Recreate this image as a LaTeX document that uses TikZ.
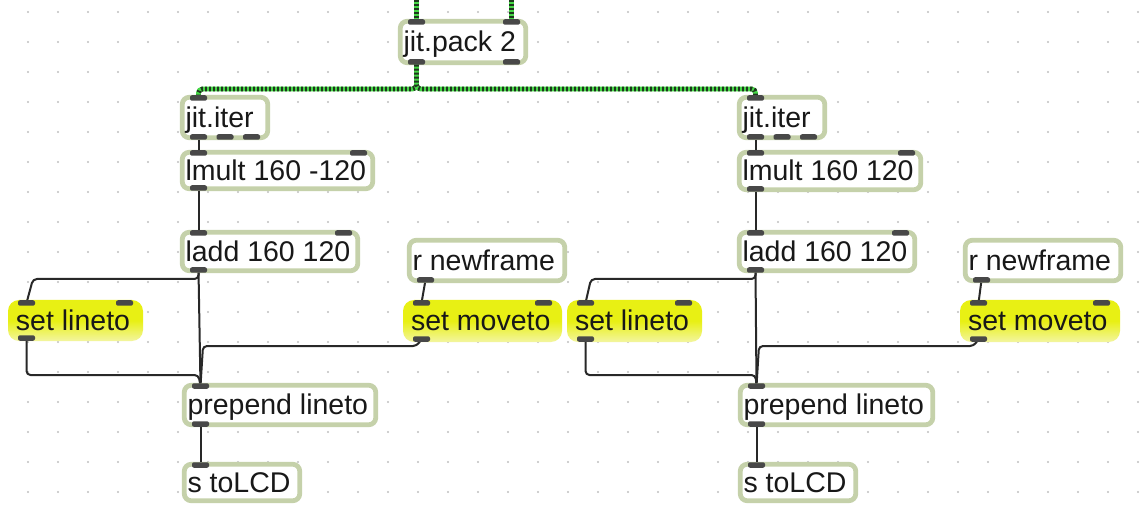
\documentclass[tikz,border=0pt]{standalone}
\usepackage{fontspec}
\setmainfont{Liberation Sans}
\pgfdeclarelayer{back}
\pgfdeclarelayer{wires}
\pgfsetlayers{back,wires,main}

\definecolor{boxedge}{RGB}{197,209,170}
\definecolor{portc}{RGB}{72,72,72}
\definecolor{cordc}{RGB}{40,40,40}
\definecolor{dotc}{RGB}{192,192,192}
\definecolor{msgtop}{RGB}{232,240,20}
\definecolor{msgbot}{RGB}{243,245,160}
\definecolor{mgreen}{RGB}{70,215,70}
\definecolor{mdark}{RGB}{30,55,30}
\definecolor{inkc}{RGB}{24,24,24}

% object box: name, left, top, right, bottom, text (pixel coordinates)
\newcommand\mxobj[6]{%
  \pgfmathsetmacro\mxW{#4-#2-4.5}\pgfmathsetmacro\mxH{#5-#3-4.5}\pgfmathsetmacro\mxT{\mxW-6.5}%
  \node[objbox, minimum width=\mxW pt, minimum height=\mxH pt] (#1) at ({(#2+#4)/2},{(#3+#5)/2}) {\makebox[\mxT pt][l]{#6}};}
% message box: name, left, top, right, bottom, text
\newcommand\mxmsg[6]{%
  \pgfmathsetmacro\mxW{#4-#2}\pgfmathsetmacro\mxH{#5-#3}\pgfmathsetmacro\mxT{\mxW-16}%
  \node[msgbox, minimum width=\mxW pt, minimum height=\mxH pt] (#1) at ({(#2+#4)/2},{(#3+#5)/2}) {\makebox[\mxT pt][l]{#6}};}

\tikzset{
  boxtext/.style={font=\fontsize{28.5}{31}\selectfont, text=inkc, inner ysep=0pt,
    text height=19.5pt, text depth=0pt, outer sep=0pt},
  objbox/.style={boxtext, rectangle, rounded corners=7pt, draw=boxedge, line width=4.8pt,
    fill=white, inner xsep=3pt},
  msgbox/.style={boxtext, rectangle, rounded corners=11pt, draw=none,
    top color=msgtop, bottom color=msgbot, middle color=msgtop, inner xsep=8pt},
  port/.style={rectangle, fill=portc, draw=none, minimum width=17pt, minimum height=5.5pt,
    inner sep=0pt, outer sep=0pt, rounded corners=2pt},
  cord/.style={draw=cordc, line width=2pt, rounded corners=4pt},
  mcord/.style={draw=mgreen, line width=4.8pt, rounded corners=4pt,
    postaction={draw=mdark, line width=4.8pt, dash pattern=on 1.8pt off 2.2pt}},
}

\begin{document}
\begin{tikzpicture}[x=1pt, y=-1pt]
\useasboundingbox (0,0) rectangle (1144,505);

\begin{pgfonlayer}{back}
  \fill[white] (0,0) rectangle (1144,505);
  % grid of the patcher
  \foreach \i in {0,...,37} \foreach \j in {0,...,16}
    \fill[dotc] ({28+30*\i},{12+30*\j}) circle (1.1pt);

  \mxobj{pack}{398}{19}{528}{65}{jit.pack 2}
  % left chain
  \mxobj{iterL}{180}{95}{270}{140}{jit.iter}
  \mxobj{lmultL}{180}{150}{375}{191}{lmult 160 -120}
  \mxobj{laddL}{180}{230}{360}{273}{ladd 160 120}
  \mxmsg{lineL}{8}{300}{143}{341}{set lineto}
  \mxobj{rnfL}{407}{238}{567}{283}{r newframe}
  \mxmsg{moveL}{403}{300}{562}{342}{set moveto}
  \mxobj{prepL}{182}{383}{378}{427}{prepend lineto}
  \mxobj{lcdL}{182}{462}{302}{503}{s toLCD}
  % right chain
  \mxobj{iterR}{737}{95}{827}{140}{jit.iter}
  \mxobj{lmultR}{737}{150}{923}{192}{lmult 160 120}
  \mxobj{laddR}{737}{230}{917}{273}{ladd 160 120}
  \mxmsg{lineR}{567}{300}{702}{342}{set lineto}
  \mxobj{rnfR}{963}{238}{1123}{283}{r newframe}
  \mxmsg{moveR}{960}{300}{1120}{342}{set moveto}
  \mxobj{prepR}{738}{383}{935}{427}{prepend lineto}
  \mxobj{lcdR}{738}{462}{858}{503}{s toLCD}
\end{pgfonlayer}

% inlets and outlets
\node[port] (pack-i1) at (416.5,22) {};
\node[port] (pack-i2) at (511.5,22) {};
\node[port] (pack-o1) at (416.5,62) {};
\node[port] (pack-o2) at (511.5,62) {};

\node[port] (iterL-i1) at (198.5,98) {};
\node[port] (iterL-o1) at (198.5,137) {};
\node[port] (iterL-o2) at (225,137) {};
\node[port] (iterL-o3) at (251.5,137) {};
\node[port] (lmultL-i1) at (198.5,153) {};
\node[port] (lmultL-i2) at (358.5,153) {};
\node[port] (lmultL-o1) at (198.5,188) {};
\node[port] (laddL-i1) at (198.5,233) {};
\node[port] (laddL-i2) at (343.5,233) {};
\node[port] (laddL-o1) at (198.5,270) {};
\node[port] (lineL-i1) at (26.5,303) {};
\node[port] (lineL-i2) at (124.5,303) {};
\node[port] (lineL-o1) at (26.5,338) {};
\node[port] (rnfL-o1) at (425.5,280) {};
\node[port] (moveL-i1) at (421.5,303) {};
\node[port] (moveL-i2) at (543.5,303) {};
\node[port] (moveL-o1) at (421.5,339) {};
\node[port] (prepL-i1) at (200.5,386) {};
\node[port] (prepL-o1) at (200.5,424) {};
\node[port] (lcdL-i1) at (200.5,465) {};

\node[port] (iterR-i1) at (755.5,98) {};
\node[port] (iterR-o1) at (755.5,137) {};
\node[port] (iterR-o2) at (782,137) {};
\node[port] (iterR-o3) at (808.5,137) {};
\node[port] (lmultR-i1) at (755.5,153) {};
\node[port] (lmultR-i2) at (906.5,153) {};
\node[port] (lmultR-o1) at (755.5,189) {};
\node[port] (laddR-i1) at (755.5,233) {};
\node[port] (laddR-i2) at (900.5,233) {};
\node[port] (laddR-o1) at (755.5,270) {};
\node[port] (lineR-i1) at (585.5,303) {};
\node[port] (lineR-i2) at (683.5,303) {};
\node[port] (lineR-o1) at (585.5,339) {};
\node[port] (rnfR-o1) at (981.5,280) {};
\node[port] (moveR-i1) at (978.5,303) {};
\node[port] (moveR-i2) at (1101.5,303) {};
\node[port] (moveR-o1) at (978.5,339) {};
\node[port] (prepR-i1) at (756.5,386) {};
\node[port] (prepR-o1) at (756.5,424) {};
\node[port] (lcdR-i1) at (756.5,465) {};

\coordinate (srcA) at (416.5,0);
\coordinate (srcB) at (511.5,0);

\begin{pgfonlayer}{wires}
  % matrix cords
  \draw[mcord] (srcA) -- (pack-i1);
  \draw[mcord] (srcB) -- (pack-i2);
  \draw[mcord] (pack-o1) |- (198.5,89) -- (iterL-i1);
  \draw[mcord] (pack-o1) |- (755.5,89) -- (iterR-i1);

  % left chain
  \draw[cord] (iterL-o1) -- (lmultL-i1);
  \draw[cord] (lmultL-o1) -- (laddL-i1);
  \draw[cord] (laddL-o1) -- (prepL-i1);
  \draw[cord] (laddL-o1) |- (33,279) -- (lineL-i1);
  \draw[cord] (lineL-o1) |- (198.5,375) -- (prepL-i1);
  \draw[cord] (moveL-o1) -- (417,346) -- (203,346) -- (prepL-i1);
  \draw[cord] (rnfL-o1) -- (moveL-i1);
  \draw[cord] (prepL-o1) -- (lcdL-i1);

  % right chain
  \draw[cord] (iterR-o1) -- (lmultR-i1);
  \draw[cord] (lmultR-o1) -- (laddR-i1);
  \draw[cord] (laddR-o1) -- (prepR-i1);
  \draw[cord] (laddR-o1) |- (591,279) -- (lineR-i1);
  \draw[cord] (lineR-o1) |- (755.5,375) -- (prepR-i1);
  \draw[cord] (moveR-o1) -- (974,346) -- (759,346) -- (prepR-i1);
  \draw[cord] (rnfR-o1) -- (moveR-i1);
  \draw[cord] (prepR-o1) -- (lcdR-i1);
\end{pgfonlayer}
\end{tikzpicture}
\end{document}
